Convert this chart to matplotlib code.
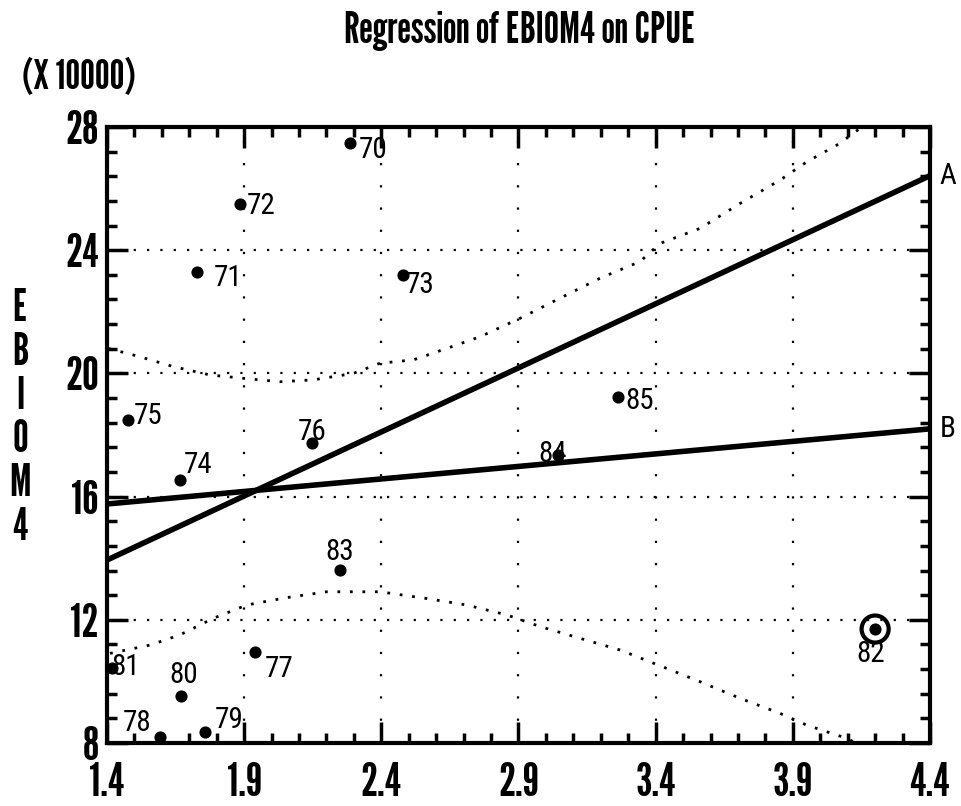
import numpy as np
import matplotlib
matplotlib.use("Agg")
import matplotlib.pyplot as plt
from matplotlib.ticker import MultipleLocator

HEAVY = ['League Gothic', 'DejaVu Sans']
THIN = ['Roboto Condensed', 'DejaVu Sans']
plt.rcParams['font.family'] = THIN

# Observations: year label, CPUE, EBIOM4 (x 10000)
years = ['70', '71', '72', '73', '74', '75', '76', '77',
         '78', '79', '80', '81', '82', '83', '84', '85']
cpue = [2.286, 1.729, 1.885, 2.478, 1.666, 1.478, 2.146, 1.940,
        1.593, 1.757, 1.669, 1.417, 4.200, 2.249, 3.045, 3.264]
ebiom = [27.47, 23.28, 25.49, 23.19, 16.54, 18.49, 17.75, 10.94,
         8.20, 8.37, 9.54, 10.43, 11.70, 13.62, 17.35, 19.24]
outliers = ['82']

# Fitted lines (end points) and confidence limits of line B
line_a_x = [1.4, 4.4]
line_a_y = [13.94, 26.42]
line_b_x = [1.4, 4.4]
line_b_y = [15.76, 18.20]

upper_x = [1.405, 1.52, 1.642, 1.775, 1.897, 2.031, 2.152, 2.298, 2.395,
           2.517, 2.638, 2.76, 2.906, 3.051, 3.197, 3.343, 3.416, 3.562,
           3.708, 3.854, 3.951, 4.072, 4.12, 4.17]
upper_y = [20.81, 20.54, 20.22, 19.95, 19.84, 19.73, 19.79, 20.0, 20.33,
           20.44, 20.81, 21.19, 21.79, 22.44, 23.09, 23.63, 24.22, 24.71,
           25.52, 26.28, 26.87, 27.47, 27.8, 28.1]
lower_x = [1.411, 1.557, 1.666, 1.788, 1.909, 2.055, 2.201, 2.395, 2.566,
           2.711, 2.857, 2.979, 3.124, 3.27, 3.404, 3.562, 3.708, 3.854,
           3.951, 4.097, 4.133]
lower_y = [10.91, 11.18, 11.51, 12.05, 12.48, 12.72, 12.91, 12.91, 12.69,
           12.48, 12.16, 11.78, 11.4, 11.02, 10.55, 9.99, 9.45, 8.96,
           8.58, 8.15, 7.99]

xticks = [1.4, 1.9, 2.4, 2.9, 3.4, 3.9, 4.4]
xtick_labels = ['1.4', '1.9', '2.4', '2.9', '3.4', '3.9', '4.4']
yticks = [8, 12, 16, 20, 24, 28]
ytick_labels = ['8', '12', '16', '20', '24', '28']

# label offsets (points) for each year
label_pos = {
    '70': (6, -5, 'left'), '71': (12, -4, 'left'), '72': (5, -1, 'left'),
    '73': (2, -7, 'left'), '74': (3, 11, 'left'), '75': (4, 3, 'left'),
    '76': (0, 8, 'center'), '77': (7, -12, 'left'), '78': (-6, 10, 'right'),
    '79': (7, 8, 'left'), '80': (2, 15, 'center'), '81': (0, 1, 'left'),
    '82': (-3, -18, 'center'), '83': (0, 13, 'center'), '84': (-4, 1, 'center'),
    '85': (5, -3, 'left'),
}

fig = plt.figure(figsize=(9.62, 8.06), dpi=100)
fig.patch.set_facecolor('white')
ax = fig.add_axes([107 / 962, 1 - 743 / 806, 823 / 962, 616 / 806])
ax.set_xlim(1.4, 4.4)
ax.set_ylim(8, 28)

# grid
ax.grid(axis='x', which='major', color='black', lw=1.6, linestyle=(0, (1, 9)))
ax.grid(axis='y', which='major', color='black', lw=1.6, linestyle=(0, (1, 5)))
ax.set_axisbelow(True)

# confidence limits
ax.plot(upper_x, upper_y, color='black', lw=2.0, linestyle=(0, (1, 3.5)))
ax.plot(lower_x, lower_y, color='black', lw=2.0, linestyle=(0, (1, 3.5)))

# fitted lines
ax.plot(line_a_x, line_a_y, color='black', lw=4, solid_capstyle='butt')
ax.plot(line_b_x, line_b_y, color='black', lw=4, solid_capstyle='butt')

# points
ax.scatter(cpue, ebiom, s=60, color='black', zorder=5, clip_on=False)
for yr, x, y in zip(years, cpue, ebiom):
    if yr in outliers:
        ax.scatter([x], [y], s=380, facecolor='none', edgecolor='black',
                   linewidth=3, zorder=6)
    dx, dy, ha = label_pos[yr]
    ax.annotate(yr, (x, y), xytext=(dx, dy), textcoords='offset points',
                ha=ha, va='center', fontsize=21, color='black', zorder=7)

# line tags at right edge
ax.text(1.012, (line_a_y[1] - 8) / 20, 'A', transform=ax.transAxes,
        ha='left', va='center', fontsize=21)
ax.text(1.012, (line_b_y[1] - 8) / 20, 'B', transform=ax.transAxes,
        ha='left', va='center', fontsize=21)

# axes and ticks
for sp in ax.spines.values():
    sp.set_linewidth(3)
ax.set_xticks(xticks)
ax.set_xticklabels(xtick_labels, fontsize=34, family=HEAVY)
ax.set_yticks(yticks)
ax.set_yticklabels(ytick_labels, fontsize=34, family=HEAVY)
ax.xaxis.set_minor_locator(MultipleLocator(0.1))
ax.yaxis.set_minor_locator(MultipleLocator(0.8))
ax.tick_params(which='both', direction='in', top=True, right=True,
               width=2.5, color='black')
ax.tick_params(which='major', length=15)
ax.tick_params(which='minor', length=7)
ax.tick_params(axis='x', which='major', pad=14)
ax.tick_params(axis='y', which='major', pad=6)

fig.text(0.54, 0.962, 'Regression of EBIOM4 on CPUE', ha='center', va='center',
         fontsize=31, family=HEAVY)
fig.text(22 / 962, 1 - 78 / 806, '(X 10000)', ha='left', va='center',
         fontsize=30, family=HEAVY)
fig.text(20 / 962, 1 - 418 / 806, 'E\nB\nI\nO\nM\n4', ha='center', va='center',
         fontsize=32, family=HEAVY, linespacing=1.09)

fig.savefig('out.png', dpi=100, facecolor='white')
